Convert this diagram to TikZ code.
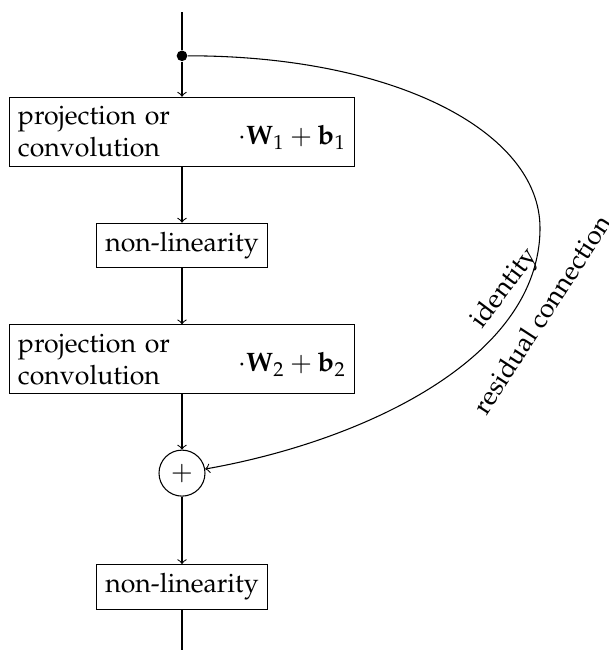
\documentclass[tikz,border=0pt]{standalone}
\usepackage[T1]{fontenc}
\usepackage{mathpazo}
\usepackage{tikz}
\usetikzlibrary{positioning}
\tikzset{
  layer/.style   ={rectangle, draw, align=center},
  layerW/.style  ={layer, text width=123pt, align=left},
  junction/.style={circle, fill, inner sep=0pt, minimum size=4pt},
  summ/.style    ={circle, draw, inner sep=0pt, minimum size=17.25pt},
  affine/.style  ={label={[anchor=east, yshift=-2pt]east:#1}},
  flow/.style    ={->},
}

\begin{document}
\begin{tikzpicture}[node distance=1.5cm, on grid]
  \useasboundingbox (-68.25pt,4.5pt) rectangle (159.75pt,-239.25pt);
  \coordinate (in) at (0,0);
  \node[junction, below=0.5cm of in] (split) {};
  \node[layerW, below=1cm of split, affine={$\cdot\mathbf{W}_1+\mathbf{b}_1$}] (proj1) {projection or\\convolution};
  \node[layer, below=of proj1] (act1) {non-linearity};
  \node[layerW, below=of act1, affine={$\cdot\mathbf{W}_2+\mathbf{b}_2$}] (proj2) {projection or\\convolution};
  \node[summ, below=of proj2] (add) {$+$};
  \node[layer, below=of add] (act2) {non-linearity};
  \coordinate[below=1cm of act2] (out);
  \coordinate (turn) at (134.25pt,-81pt);
  \draw (in) -- (split);
  \draw[flow] (split) -- (proj1);
  \draw[flow] (proj1) -- (act1);
  \draw[flow] (act1) -- (proj2);
  \draw[flow] (proj2) -- (add);
  \draw[flow] (add) -- (act2);
  \draw[flow] (act2) -- (out);
  % skip path
  \draw[flow] (split) .. controls +(0:80pt) and +(90:36pt) .. (turn)
    .. controls +(-90:49pt) and +(10:69pt) .. (add)
    node[pos=0.2, rotate=53, anchor=south, inner sep=2pt] {identity}
    node[pos=0.2, rotate=57, anchor=north, inner sep=5.5pt] {residual connection};
\end{tikzpicture}
\end{document}
